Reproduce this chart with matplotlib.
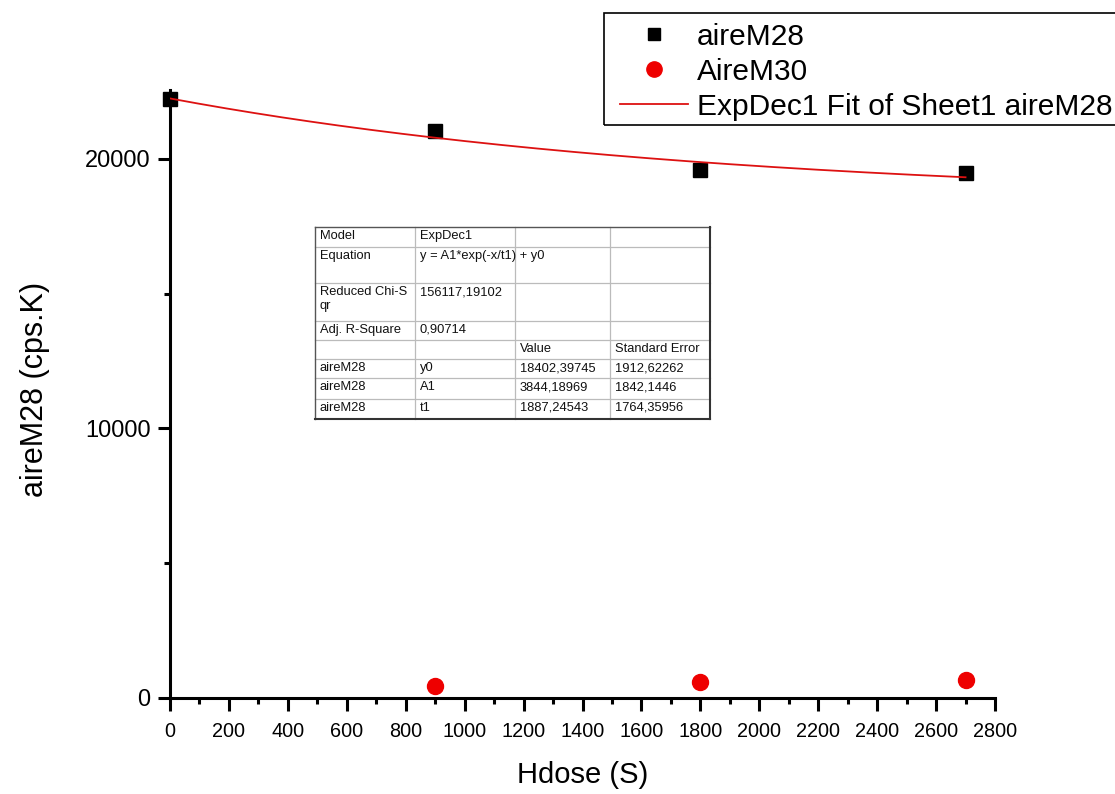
import numpy as np
import matplotlib
matplotlib.use("Agg")
import matplotlib.pyplot as plt
from matplotlib.lines import Line2D
from matplotlib.patches import Rectangle

plt.rcParams['font.family'] = ['Liberation Sans', 'DejaVu Sans']

# ---- data ----
hdose = [0, 900, 1800, 2700]
aireM28 = [22230, 21040, 19590, 19480]
hdose_m30 = [900, 1800, 2700]
aireM30 = [445, 605, 665]

# ExpDec1 fit parameters (from the fit table)
fit_y0 = 18402.39745
fit_A1 = 3844.18969
fit_t1 = 1887.24543

table_rows = [
    ["Model", "ExpDec1", "", ""],
    ["Equation", "y = A1*exp(-x/t1) + y0", "", ""],
    ["Reduced Chi-S\nqr", "156117,19102", "", ""],
    ["Adj. R-Square", "0,90714", "", ""],
    ["", "", "Value", "Standard Error"],
    ["aireM28", "y0", "18402,39745", "1912,62262"],
    ["aireM28", "A1", "3844,18969", "1842,1446"],
    ["aireM28", "t1", "1887,24543", "1764,35956"],
]

x_major = list(range(0, 2801, 200))
y_major = [0, 10000, 20000]

W, H = 1115, 794
fig = plt.figure(figsize=(W / 100, H / 100), dpi=100)
ax = fig.add_axes([170 / W, 1 - 698 / H, 825 / W, 608 / H])

red = '#ee0000'
xfit = np.linspace(min(hdose), max(hdose), 200)
yfit = fit_y0 + fit_A1 * np.exp(-xfit / fit_t1)

ax.plot(hdose, aireM28, linestyle='none', marker='s', markersize=10,
        color='black', clip_on=False, zorder=3)
ax.plot(hdose_m30, aireM30, linestyle='none', marker='o', markersize=11.5,
        color=red, markeredgecolor=red, clip_on=False, zorder=3)
ax.plot(xfit, yfit, color='#dd1111', linewidth=1.3, zorder=4)

ax.set_xlim(0, 2800)
ax.set_ylim(0, 22560)
ax.set_xticks(x_major)
ax.set_xticks(list(range(100, 2800, 200)), minor=True)
ax.set_yticks(y_major)
ax.set_yticks([5000, 15000], minor=True)
ax.set_xticklabels([str(v) for v in x_major])
ax.set_yticklabels([str(v) for v in y_major])

for s in ['top', 'right']:
    ax.spines[s].set_visible(False)
for s in ['left', 'bottom']:
    ax.spines[s].set_linewidth(2.2)

ax.tick_params(axis='x', which='major', direction='out', length=9, width=2.2,
               labelsize=14.3, pad=8)
ax.tick_params(axis='x', which='minor', direction='out', length=4.5, width=2.2)
ax.tick_params(axis='y', which='major', direction='out', length=9, width=2.2,
               labelsize=17, pad=5)
ax.tick_params(axis='y', which='minor', direction='out', length=4.5, width=2.2)

ax.set_xlabel("Hdose (S)", fontsize=21, labelpad=15)
ax.set_ylabel("aireM28 (cps.K)", fontsize=22)
ax.yaxis.set_label_coords(-0.1455, 0.507)

# legend
handles = [
    Line2D([], [], linestyle='none', marker='s', markersize=9, color='black'),
    Line2D([], [], linestyle='none', marker='o', markersize=11, color=red),
    Line2D([], [], color='#dd1111', linewidth=1.3),
]
labels = ["aireM28", "AireM30", "ExpDec1 Fit of Sheet1 aireM28"]
leg = fig.legend(handles, labels, loc='upper left',
                 bbox_to_anchor=(605 / W, 1 - 8 / H), bbox_transform=fig.transFigure,
                 borderaxespad=0, frameon=False,
                 fontsize=21.5, handlelength=2.27, handletextpad=0.3, borderpad=0.5,
                 labelspacing=0.23)
fig.add_artist(Rectangle((604 / W, 1 - 125 / H), 530 / W, 112 / H,
                         transform=fig.transFigure, fill=False,
                         edgecolor='black', linewidth=1.2, clip_on=False))

# fit table (figure pixel coordinates)
col_x = [315, 415, 515, 610, 710]
row_y = [226.7, 247.3, 283.3, 321, 340, 359, 378.3, 399, 419]


def fx(px):
    return px / W


def fy(py):
    return 1 - py / H


grid_c = '#bbbbbb'
for yy in row_y[1:-1]:
    fig.add_artist(Line2D([fx(col_x[0]), fx(col_x[-1])], [fy(yy), fy(yy)],
                          color=grid_c, linewidth=0.9))
for xx in col_x[1:-1]:
    fig.add_artist(Line2D([fx(xx), fx(xx)], [fy(row_y[0]), fy(row_y[-1])],
                          color=grid_c, linewidth=0.9))
# outer border
fig.add_artist(Line2D([fx(col_x[0]), fx(col_x[-1])], [fy(row_y[0]), fy(row_y[0])],
                      color='#555555', linewidth=1.0))
fig.add_artist(Line2D([fx(col_x[0]), fx(col_x[0])], [fy(row_y[0]), fy(row_y[-1])],
                      color='#555555', linewidth=1.0))
fig.add_artist(Line2D([fx(col_x[0]), fx(col_x[-1])], [fy(row_y[-1]), fy(row_y[-1])],
                      color='#333333', linewidth=1.5))
fig.add_artist(Line2D([fx(col_x[-1]), fx(col_x[-1])], [fy(row_y[0]), fy(row_y[-1])],
                      color='#333333', linewidth=1.5))

for r, row in enumerate(table_rows):
    top = row_y[r]
    for c, txt in enumerate(row):
        if not txt:
            continue
        fig.text(fx(col_x[c] + 5), fy(top + 3), txt, fontsize=9.3,
                 ha='left', va='top', color='#111111', linespacing=1.15)

fig.savefig("out.png", dpi=100)
